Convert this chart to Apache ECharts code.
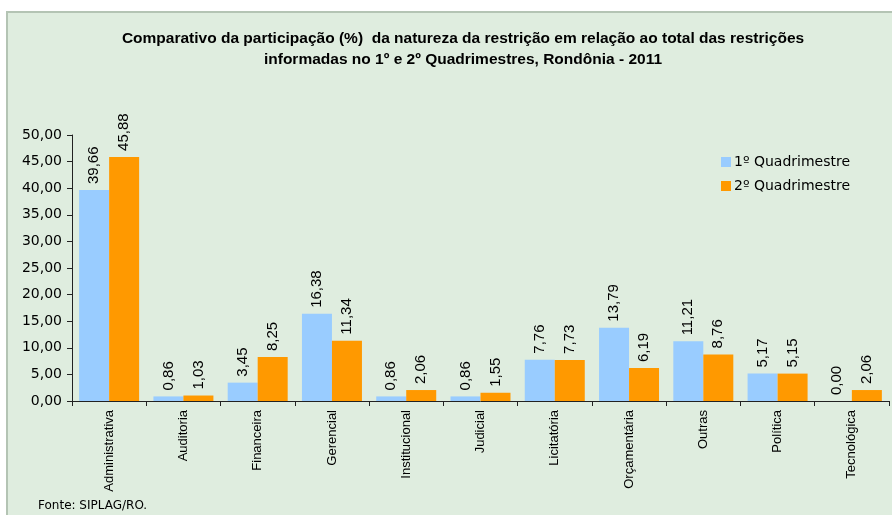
<!DOCTYPE html>
<html>
<head>
<meta charset="utf-8">
<script src="https://cdn.jsdelivr.net/npm/echarts@6/dist/echarts.min.js"></script>
<style>
html,body{margin:0;padding:0;width:892px;height:515px;overflow:hidden;background:#ffffff;}
#bg{position:absolute;left:6px;top:11px;width:900px;height:520px;background:#DFEDDF;border-left:2px solid #B4C4B4;border-top:2px solid #B4C4B4;}
#chart{position:absolute;left:0;top:0;width:892px;height:515px;}
</style>
</head>
<body>
<div id="bg"></div>
<div id="chart"></div>
<script>
const categories = ['Administrativa','Auditoria','Financeira','Gerencial','Institucional','Judicial','Licitatória','Orçamentária','Outras','Política','Tecnológica'];
const q1 = [39.66,0.86,3.45,16.38,0.86,0.86,7.76,13.79,11.21,5.17,0.00];
const q2 = [45.88,1.03,8.25,11.34,2.06,1.55,7.73,6.19,8.76,5.15,2.06];
const seriesNames = ['1º Quadrimestre','2º Quadrimestre'];
const yTicks = [0,5,10,15,20,25,30,35,40,45,50];

const fmt = v => Number(v).toFixed(2).replace('.', ',');
const chart = echarts.init(document.getElementById('chart'), null, {renderer:'canvas'});
const labelCfg = {
  show:true, position:'top', rotate:90, align:'left', verticalAlign:'middle',
  distance:6, fontFamily:'Liberation Sans, Arial', fontSize:15, color:'#000',
  formatter: p => fmt(p.value)
};
chart.setOption({
  backgroundColor:'transparent',
  animation:false,
  title:{
    text:'Comparativo da participação (%)  da natureza da restrição em relação ao total das restrições\ninformadas no 1º e 2º Quadrimestres, Rondônia - 2011',
    left:458, top:23, textAlign:'center',
    textStyle:{fontFamily:'Liberation Sans, Arial', fontWeight:'bold', fontSize:15.5, lineHeight:21, color:'#000'}
  },
  legend:{
    orient:'vertical', left:716, top:150, itemWidth:10, itemHeight:10, itemGap:10,
    icon:'rect',
    textStyle:{fontFamily:'DejaVu Sans', fontSize:14, color:'#000', padding:[0,0,0,-2]},
    data:seriesNames
  },
  grid:{left:72, top:135, width:817, height:266, containLabel:false},
  xAxis:{
    type:'category', data:categories,
    axisLine:{lineStyle:{color:'#222', width:1}},
    axisTick:{show:true, length:5, lineStyle:{color:'#222'}},
    axisLabel:{interval:0, rotate:90, margin:9, fontFamily:'Liberation Sans, Arial', fontSize:13, color:'#000'}
  },
  yAxis:{
    type:'value', min:0, max:50, interval:5,
    axisLine:{show:true, lineStyle:{color:'#222', width:1}},
    axisTick:{show:true, length:5, lineStyle:{color:'#222'}},
    splitLine:{show:false},
    axisLabel:{margin:10, fontFamily:'DejaVu Sans', fontSize:14, color:'#000', formatter: v => yTicks.includes(v) ? fmt(v) : ''}
  },
  series:[
    {name:seriesNames[0], type:'bar', data:q1, barWidth:30, barGap:'0%', itemStyle:{color:'#99CCFF'}, label:labelCfg},
    {name:seriesNames[1], type:'bar', data:q2, barWidth:30, barGap:'0%', itemStyle:{color:'#FF9900'}, label:labelCfg}
  ],
  graphic:[{
    type:'text', left:38, top:500,
    style:{text:'Fonte: SIPLAG/RO.', fontFamily:'DejaVu Sans', fontSize:12, fill:'#000'}
  }]
});
</script>
</body>
</html>
